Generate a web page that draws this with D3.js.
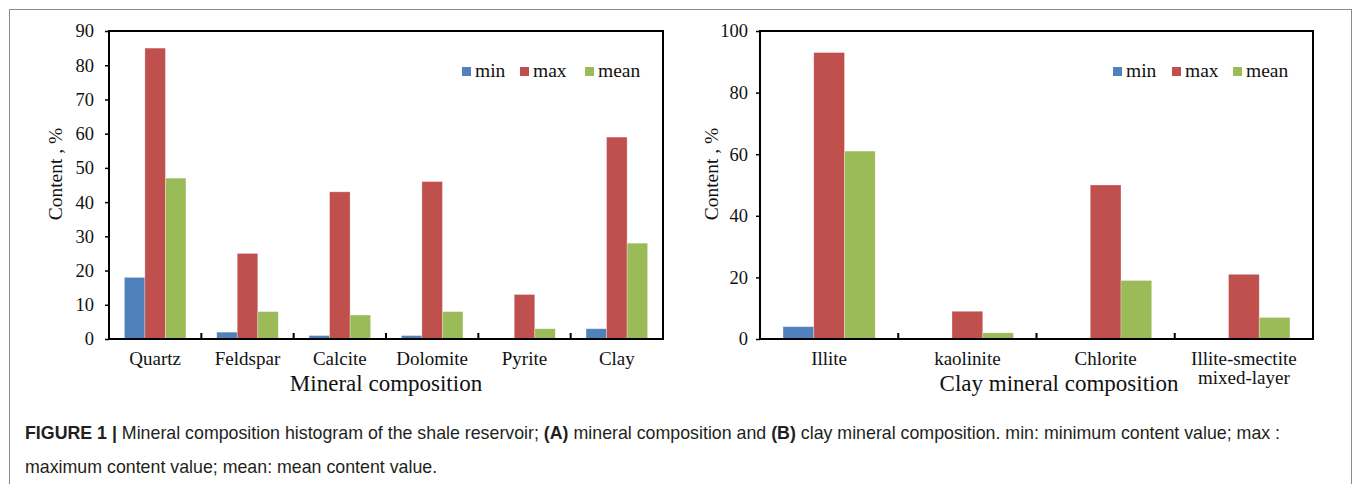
<!DOCTYPE html>
<html lang="en">
<head>
<meta charset="UTF-8">
<title>Mineral composition histogram</title>
<script src="https://d3js.org/d3.v7.min.js"></script>
<style>
  body { margin: 0; background: #fff; }
  svg { display: block; }
  .serif { font-family: "Liberation Serif", "Times New Roman", serif; fill: #111; }
  .cap { font-family: "Liberation Sans", Arial, sans-serif; fill: #231f20; }
</style>
</head>
<body>
<svg width="1355" height="484"></svg>
<script>
// ---- data ----
const series = ["min", "max", "mean"];
const colors = ["#4f81bd", "#c0504d", "#9bbb59"];

const mineralCats = ["Quartz", "Feldspar", "Calcite", "Dolomite", "Pyrite", "Clay"];
const mineralMin  = [18, 2, 1, 1, 0, 3];
const mineralMax  = [85, 25, 43, 46, 13, 59];
const mineralMean = [47, 8, 7, 8, 3, 28];
const mineralTicks = [0, 10, 20, 30, 40, 50, 60, 70, 80, 90];

const clayCats = ["Illite", "kaolinite", "Chlorite", "Illite-smectite mixed-layer"];
const clayMin  = [4, 0, 0, 0];
const clayMax  = [93, 9, 50, 21];
const clayMean = [61, 2, 19, 7];
const clayTicks = [0, 20, 40, 60, 80, 100];

const svg = d3.select("svg");

// outer frame of the figure
svg.append("rect")
  .attr("x", 9.5).attr("y", 9.5).attr("width", 1342).attr("height", 520)
  .attr("fill", "none").attr("stroke", "#8a8a8a").attr("stroke-width", 1);

function panel(o) {
  const g = svg.append("g");
  const x = d3.scaleBand().domain(o.cats).range([o.x0, o.x1]);
  const xs = d3.scaleBand().domain(series).range([x.bandwidth() / 6, x.bandwidth() * 5 / 6]);
  const y = d3.scaleLinear().domain([0, o.ymax]).range([339, 31]);
  const rows = o.cats.map((c, i) => ({ cat: c, vals: [o.min[i], o.max[i], o.mean[i]] }));

  // bars
  const grp = g.selectAll("g.cat").data(rows).enter().append("g")
    .attr("transform", d => `translate(${x(d.cat)},0)`);
  grp.selectAll("rect").data(d => d.vals.map((v, k) => ({ s: series[k], v: v, k: k })))
    .enter().append("rect")
    .filter(d => d.v > 0)
    .attr("x", d => xs(d.s)).attr("width", xs.bandwidth())
    .attr("y", d => y(d.v)).attr("height", d => y(0) - y(d.v))
    .attr("fill", d => colors[d.k])
    .attr("stroke", "#ffffff").attr("stroke-opacity", 0.35).attr("stroke-width", 0.8);

  // y axis
  const ya = g.append("g").attr("transform", `translate(${o.x0},0)`)
    .call(d3.axisLeft(y).tickValues(o.ticks).tickSize(4).tickPadding(o.tpad).tickFormat(d3.format("d")));
  ya.select(".domain").remove();
  ya.selectAll("line").attr("stroke", "#000").attr("stroke-width", 1.5);
  ya.selectAll("text").attr("class", "serif").style("font-size", "18.5px")
    .attr("fill", "#111");

  // category separator ticks (inside, pointing up)
  g.selectAll("line.sep").data(o.cats.slice(1)).enter().append("line")
    .attr("x1", d => x(d)).attr("x2", d => x(d))
    .attr("y1", y(0)).attr("y2", y(0) - 6)
    .attr("stroke", "#000").attr("stroke-width", 2);

  // plot frame
  g.append("rect")
    .attr("x", o.x0).attr("y", 31).attr("width", o.x1 - o.x0).attr("height", 308)
    .attr("fill", "none").attr("stroke", "#000").attr("stroke-width", 2);

  // category labels
  const lab = g.selectAll("text.cat").data(o.cats).enter().append("text")
    .attr("class", "serif").style("font-size", "19px")
    .attr("text-anchor", "middle");
  lab.each(function (d) {
    const parts = d.split(" ");
    d3.select(this).selectAll("tspan").data(parts).enter().append("tspan")
      .attr("x", x(d) + x.bandwidth() / 2)
      .attr("y", (p, i) => 365 + i * 19)
      .text(p => p);
  });

  // axis titles
  g.append("text").attr("class", "serif").style("font-size", "23px")
    .attr("text-anchor", "middle")
    .attr("x", o.titleX).attr("y", 391).text(o.title);
  g.append("text").attr("class", "serif").style("font-size", "19.5px")
    .attr("text-anchor", "middle")
    .attr("transform", `translate(${o.yTitleX},174) rotate(-90)`)
    .text("Content , %");

  // legend
  const leg = g.selectAll("g.leg").data(series).enter().append("g")
    .attr("transform", (d, i) => `translate(${o.legX[i]},0)`);
  leg.append("rect").attr("x", 0).attr("y", 67).attr("width", 9).attr("height", 9)
    .attr("fill", (d, i) => colors[i]);
  leg.append("text").attr("class", "serif").style("font-size", "19.5px")
    .attr("x", 13).attr("y", 77).text(d => d);
}

panel({
  cats: mineralCats, min: mineralMin, max: mineralMax, mean: mineralMean,
  ticks: mineralTicks, ymax: 90, x0: 109, x1: 663, tpad: 11,
  title: "Mineral composition", titleX: 386, yTitleX: 62,
  legX: [462, 520, 585]
});

panel({
  cats: clayCats, min: clayMin, max: clayMax, mean: clayMean,
  ticks: clayTicks, ymax: 100, x0: 760, x1: 1313, tpad: 8,
  title: "Clay mineral composition", titleX: 1059, yTitleX: 718,
  legX: [1113, 1172, 1233]
});

// caption
const cap1 = svg.append("text").attr("class", "cap").style("font-size", "17.8px")
  .attr("x", 25).attr("y", 439);
cap1.append("tspan").attr("font-weight", "bold").text("FIGURE 1 | ");
cap1.append("tspan").text("Mineral composition histogram of the shale reservoir; ");
cap1.append("tspan").attr("font-weight", "bold").text("(A)");
cap1.append("tspan").text(" mineral composition and ");
cap1.append("tspan").attr("font-weight", "bold").text("(B)");
cap1.append("tspan").text(" clay mineral composition. min: minimum content value; max :");

svg.append("text").attr("class", "cap").style("font-size", "17.8px")
  .attr("x", 25).attr("y", 473)
  .text("maximum content value; mean: mean content value.");
</script>
</body>
</html>
